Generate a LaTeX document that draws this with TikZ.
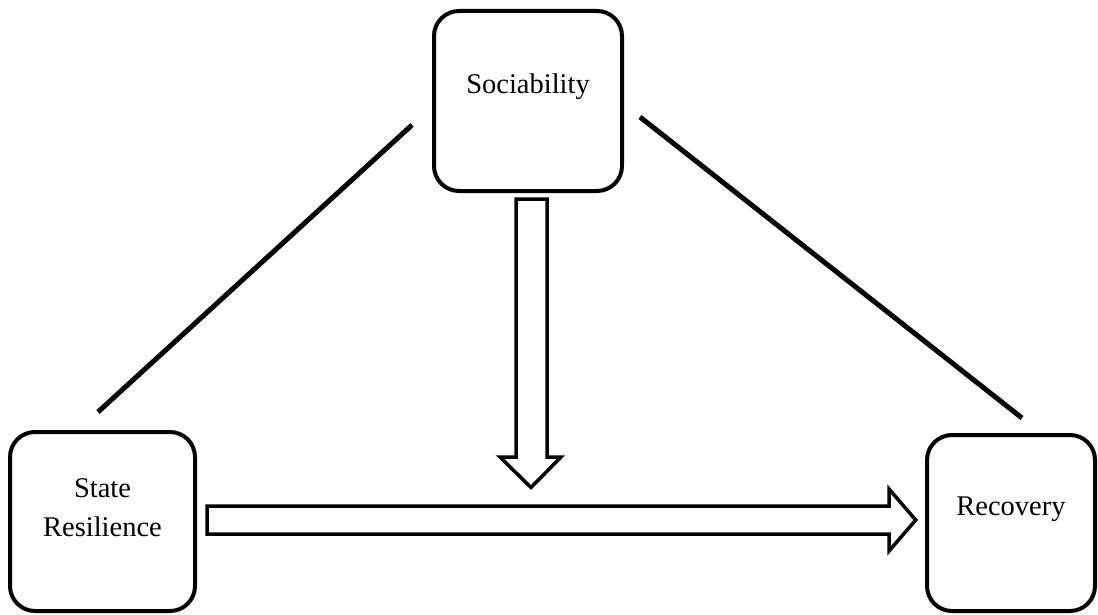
\documentclass[tikz,border=0pt]{standalone}
\usepackage{fontspec}
\setmainfont{Liberation Serif}
\usetikzlibrary{calc}
\tikzset{
  box/.style={draw, line width=4pt, rounded corners=25pt, inner sep=0pt},
  txt/.style={font=\fontsize{28.5}{39}\selectfont, align=center, yshift=14pt},
  link/.style={line width=5pt, line cap=butt},
  block/.style={draw, line width=3.5pt, line join=miter, miter limit=10},
}
\begin{document}
\begin{tikzpicture}[x=1pt, y=-1pt]
% canvas
\path[fill=white] (0,0) rectangle (1098,615);

% construct boxes
\node[box, minimum width=188pt, minimum height=180pt,
      label={[txt, name=soc-t]center:Sociability}] (soc) at (528,101) {};
\node[box, minimum width=185pt, minimum height=179pt,
      label={[txt, name=sr-t]center:State\\Resilience}] (sr) at (102.5,521.5) {};
\node[box, minimum width=168pt, minimum height=176pt,
      label={[txt, name=rec-t]center:Recovery}] (rec) at (1011,523) {};

% triangle sides
\coordinate (srA)  at (98,412);
\coordinate (socA) at (412,125);
\coordinate (socB) at (640,117);
\coordinate (recB) at (1022,418);
\draw[link] (srA) -- (socA);
\draw[link] (socB) -- (recB);

% moderation arrow from Sociability
\draw[block] (516,199) -- (547,199) -- (547,457) -- (561,457)
  -- (531,487.5) -- (500,457) -- (516,457) -- cycle;

% main effect arrow toward Recovery
\draw[block] (207,506) -- (889,506) -- (889,489) -- (915.7,520)
  -- (889,551) -- (889,534) -- (207,534) -- cycle;
\end{tikzpicture}
\end{document}
